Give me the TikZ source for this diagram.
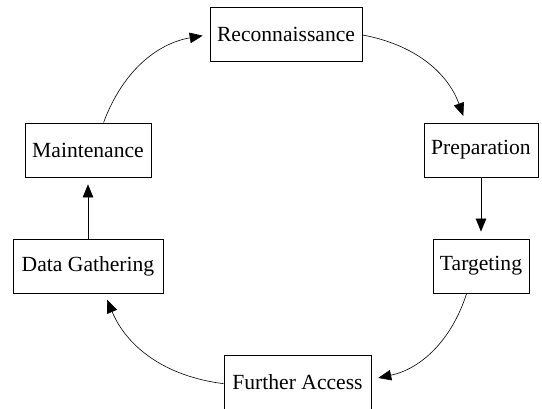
\documentclass[tikz,border=0pt]{standalone}
\usepackage{fontspec}
\setmainfont{Liberation Serif}
\usetikzlibrary{arrows.meta}
\begin{document}
\begin{tikzpicture}[x=1pt,y=1pt,
  stagebox/.style={draw, line width=0.8pt, minimum height=54pt, inner xsep=6pt, font=\fontsize{21.6pt}{26pt}\selectfont},
  flow/.style={line width=0.6pt, -{Triangle[length=13pt,width=10.5pt]}, shorten >=7pt}]
\useasboundingbox (0,0) rectangle (542,409);
\node[stagebox, minimum width=152pt] (recon)   at (286,375)   {Reconnaissance};
\node[stagebox, minimum width=114pt] (prep)    at (481,259)   {Preparation};
\node[stagebox, minimum width=96pt]  (targ)    at (481,143)   {Targeting};
\node[stagebox, minimum width=147pt] (further) at (297.5,26.5) {Further Access};
\node[stagebox, minimum width=150pt] (data)    at (88,143)    {Data Gathering};
\node[stagebox, minimum width=126pt] (maint)   at (88,259)    {Maintenance};
\draw[flow] (recon) to[bend left] (prep);
\draw[flow] (prep) -- (targ);
\draw[flow] (targ) to[bend left] (further);
\draw[flow] (further) to[bend left] (data);
\draw[flow] (data) -- (maint);
\draw[flow] (maint) to[bend left] (recon);
\end{tikzpicture}
\end{document}
